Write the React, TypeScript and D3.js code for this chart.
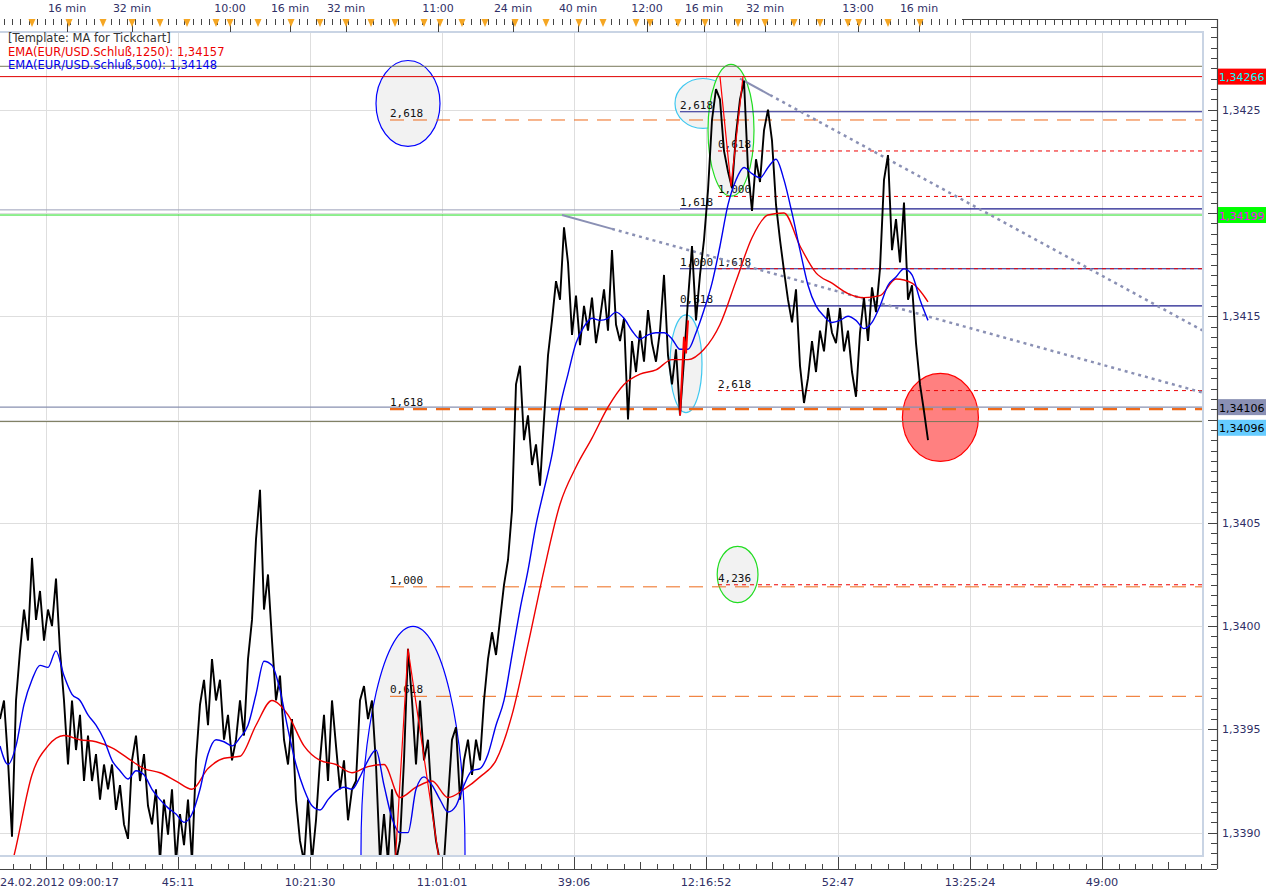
import React from 'react';
import * as d3 from 'd3';

// ---------------- data ----------------
// price ticks (EUR/USD), one sample per tick-slot
const priceTicks: number[] = [
  1.33955, 1.33964, 1.33935, 1.33898, 1.33964, 1.33988, 1.34008, 1.33993, 1.34033, 1.34003,
  1.34017, 1.33993, 1.34008, 1.34000, 1.34023, 1.33988, 1.33964, 1.33933, 1.33964, 1.33940,
  1.33957, 1.33925, 1.33947, 1.33925, 1.33938, 1.33916, 1.33933, 1.33921, 1.33933, 1.33911,
  1.33923, 1.33904, 1.33897, 1.33935, 1.33947, 1.33925, 1.33938, 1.33913, 1.33904, 1.33921,
  1.33886, 1.33916, 1.33899, 1.33921, 1.33886, 1.33909, 1.33894, 1.33916, 1.33886, 1.33935,
  1.33962, 1.33974, 1.33952, 1.33984, 1.33964, 1.33974, 1.33945, 1.33957, 1.33935, 1.33945,
  1.33964, 1.33947, 1.33984, 1.34003, 1.34042, 1.34066, 1.34008, 1.34025, 1.33993, 1.33964,
  1.33976, 1.33945, 1.33933, 1.33955, 1.33916, 1.33896, 1.33886, 1.33916, 1.33886, 1.33906,
  1.33935, 1.33957, 1.33925, 1.33964, 1.33942, 1.33921, 1.33935, 1.33906, 1.33921, 1.33925,
  1.33964, 1.33971, 1.33955, 1.33964, 1.33933, 1.33886, 1.33909, 1.33886, 1.33921, 1.33886,
  1.33896, 1.33935, 1.33989, 1.33964, 1.33933, 1.33964, 1.33935, 1.33945, 1.33913, 1.33896,
  1.33886, 1.33886, 1.33916, 1.33945, 1.33951, 1.33916, 1.33935, 1.33945, 1.33928, 1.33945,
  1.33935, 1.33964, 1.33984, 1.33997, 1.33986, 1.34003, 1.34020, 1.34032, 1.34056, 1.34117,
  1.34126, 1.34090, 1.34102, 1.34078, 1.34088, 1.34068, 1.34100, 1.34131, 1.34148, 1.34167,
  1.34158, 1.34193, 1.34176, 1.34141, 1.34160, 1.34136, 1.34155, 1.34143, 1.34159, 1.34137,
  1.34149, 1.34163, 1.34143, 1.34182, 1.34146, 1.34138, 1.34149, 1.34100, 1.34138, 1.34123,
  1.34143, 1.34128, 1.34153, 1.34137, 1.34128, 1.34143, 1.34170, 1.34131, 1.34117, 1.34134,
  1.34102, 1.34129, 1.34158, 1.34184, 1.34148, 1.34170, 1.34187, 1.34211, 1.34245, 1.34260,
  1.34255, 1.34230, 1.34220, 1.34212, 1.34238, 1.34255, 1.34264, 1.34221, 1.34201, 1.34226,
  1.34215, 1.34240, 1.34250, 1.34235, 1.34204, 1.34187, 1.34172, 1.34158, 1.34147, 1.34163,
  1.34126, 1.34108, 1.34120, 1.34138, 1.34123, 1.34143, 1.34133, 1.34154, 1.34142, 1.34137,
  1.34154, 1.34133, 1.34143, 1.34123, 1.34111, 1.34142, 1.34159, 1.34138, 1.34164, 1.34152,
  1.34173, 1.34216, 1.34228, 1.34182, 1.34197, 1.34176, 1.34205, 1.34158, 1.34165, 1.34137,
  1.34117, 1.34104, 1.34090,
];

// EMA(500), one value every 2 tick-slots
const ema500: number[] = [
  1.33942, 1.33933, 1.33942, 1.33962, 1.33974, 1.33981, 1.33980, 1.33988, 1.33976, 1.33967,
  1.33964, 1.33957, 1.33952, 1.33945, 1.33935, 1.33930, 1.33926, 1.33930, 1.33928, 1.33921,
  1.33916, 1.33912, 1.33909, 1.33905, 1.33909, 1.33921, 1.33938, 1.33945, 1.33944, 1.33942,
  1.33946, 1.33952, 1.33967, 1.33983, 1.33981, 1.33969, 1.33950, 1.33933, 1.33921, 1.33913,
  1.33911, 1.33916, 1.33920, 1.33922, 1.33921, 1.33927, 1.33935, 1.33940, 1.33923, 1.33907,
  1.33900, 1.33900, 1.33921, 1.33927, 1.33923, 1.33916, 1.33910, 1.33913, 1.33923, 1.33930,
  1.33931, 1.33938, 1.33952, 1.33964, 1.33986, 1.34008, 1.34027, 1.34049, 1.34066, 1.34083,
  1.34106, 1.34122, 1.34137, 1.34145, 1.34149, 1.34148, 1.34149, 1.34152, 1.34149, 1.34143,
  1.34139, 1.34141, 1.34142, 1.34142, 1.34139, 1.34134, 1.34134, 1.34142, 1.34153, 1.34166,
  1.34184, 1.34204, 1.34216, 1.34222, 1.34219, 1.34217, 1.34222, 1.34226, 1.34216, 1.34200,
  1.34182, 1.34165, 1.34155, 1.34150, 1.34147, 1.34148, 1.34150, 1.34148, 1.34144, 1.34147,
  1.34155, 1.34165, 1.34169, 1.34173, 1.34170, 1.34158, 1.34148,
];

// EMA(1250), one value every 4 tick-slots
const ema1250: number[] = [
  1.33860, 1.33893, 1.33928, 1.33942, 1.33947, 1.33945, 1.33944, 1.33941, 1.33936, 1.33931,
  1.33929, 1.33925, 1.33921, 1.33931, 1.33936, 1.33937, 1.33952, 1.33964, 1.33957, 1.33942,
  1.33935, 1.33933, 1.33929, 1.33932, 1.33933, 1.33917, 1.33922, 1.33925, 1.33917, 1.33921,
  1.33927, 1.33935, 1.33957, 1.33991, 1.34027, 1.34059, 1.34077, 1.34091, 1.34106, 1.34117,
  1.34122, 1.34124, 1.34129, 1.34129, 1.34134, 1.34146, 1.34167, 1.34188, 1.34199, 1.34200,
  1.34184, 1.34171, 1.34166, 1.34161, 1.34159, 1.34160, 1.34168, 1.34166, 1.34157,
];
const EMA500_STEP = 2;
const EMA1250_STEP = 4;
const SLOT_MAX = 300.75;

// axes
const bottomTickSlots = [11.5, 44.5, 77.5, 110.5, 143.5, 176.5, 209.5, 242.5, 275.5];
const bottomLabels = ['24.02.2012 09:00:17', '45:11', '10:21:30', '11:01:01', '39:06', '12:16:52', '52:47', '13:25:24', '49:00'];
const topLabelSlots = [16.75, 33, 57.5, 72.5, 86.5, 109.5, 128.25, 144.5, 161.75, 176, 191.25, 214.5, 229.75];
const topLabels = ['16 min', '32 min', '10:00', '16 min', '32 min', '11:00', '24 min', '40 min', '12:00', '16 min', '32 min', '13:00', '16 min'];
const markerSlots = [8, 17.25, 25.75, 33, 40, 46.75, 54, 57.5, 64.5, 72.75, 80, 86.5, 92.75, 98.75, 106, 110, 115.5, 121.25,
  128.75, 136.5, 144.75, 150.75, 159, 162.5, 169.5, 176.25, 184.5, 191.25, 198.5, 205, 212, 214.75, 222, 230];
const yMajorTicks = [1.339, 1.3395, 1.34, 1.3405, 1.341, 1.3415, 1.342, 1.3425];

// legend
const legendLines = ['[Template: MA for Tickchart]', 'EMA(EUR/USD.Schluß,1250): 1,34157', 'EMA(EUR/USD.Schluß,500): 1,34148'];

// horizontal price levels across the whole chart
const levelOlive = [1.34271, 1.34099];
const levelRed = [1.34266];
const levelSteel = [1.34106];
const levelGreen = [1.34199];
const levelSteelShort = [1.34201];

// Fibonacci sets: start slot, levels, labels
const fibLeftStart = 97.5;
const fibLeftLevels = [1.34245, 1.34105, 1.34019, 1.33966];
const fibLeftLabels = ['2,618', '1,618', '1,000', '0,618'];
const fibNavyStart = 170;
const fibNavyLevels = [1.34249, 1.34202, 1.34173, 1.34155];
const fibNavyLabels = ['2,618', '1,618', '1,000', '0,618'];
const fibRedStart = 179.5;
const fibRedLevels = [1.3423, 1.34208, 1.34173, 1.34114, 1.3402];
const fibRedLabels = ['0,618', '1,000', '1,618', '2,618', '4,236'];

// trend lines [slot0, price0, slotSolidEnd, slot1, price1]
const trendLines = [
  [140.5, 1.34199, 153, 300.75, 1.34113],
  [185, 1.34265, 192.5, 300.75, 1.34143],
];

// ellipses: [centerSlot, centerPrice, radiusSlots, radiusPrice]
const ellipses = [
  [103.25, 1.33891, 13, 0.001089],
  [102, 1.34253, 8, 0.000208],
  [175.75, 1.34253, 7, 0.000121],
  [182.75, 1.3424, 5.75, 0.000319],
  [171.5, 1.34127, 4, 0.000237],
  [184.4, 1.34025, 5.1, 0.000136],
  [235.1, 1.34101, 9.5, 0.000213],
];
const ellipseStroke = ['#0000ff', '#0000ff', '#3fc8f0', '#22dd22', '#3fc8f0', '#22dd22', '#ff0000'];
const ellipseFill = ['#f2f2f2', '#f2f2f2', '#f2f2f2', '#f2f2f2', '#f2f2f2', '#f2f2f2', '#ff8080'];

// red zig-zag annotations
const zigzags: number[][][] = [
  [[98.75, 1.33884], [102, 1.33989], [110, 1.33884]],
  [[180, 1.34266], [182.75, 1.34213], [185.75, 1.34266]],
  [[170, 1.34102], [171, 1.3414], [171.5, 1.34132], [172, 1.34148]],
];

// right-axis value boxes
const valueBoxes = [1.34266, 1.34199, 1.34106, 1.34096];
const valueBoxBg = ['#ff0000', '#00ff00', '#8a90b4', '#66ccff'];
const valueBoxFg = ['#00ffff', '#ff00ff', '#000000', '#000000'];

// ---------------- chart ----------------
const W = 1274;
const H = 894;
const PL = 0, PR = 1203, PT = 32, PB = 856;
const AX = 1217; // right axis line
const TOPY = 19; // top axis line
const BOTY = 869; // bottom axis line
const FONT = 'DejaVu Sans, Verdana, sans-serif';
const MONO = 'DejaVu Sans Mono, monospace';
const AXIS_COLOR = '#2f2f66';

const fmt = (v: number, d: number) => v.toFixed(d).replace('.', ',');

export default function App() {
  const x = d3.scaleLinear().domain([0, SLOT_MAX]).range([PL, PR]);
  const y = d3.scaleLinear().domain([1.338887, 1.342876]).range([PB, PT]);

  const priceLine = d3.line<number>().x((_, i) => x(i)).y((d) => y(d));
  const ema500Line = d3.line<number>().x((_, i) => x(i * EMA500_STEP)).y((d) => y(d)).curve(d3.curveMonotoneX);
  const ema1250Line = d3.line<number>().x((_, i) => x(i * EMA1250_STEP)).y((d) => y(d)).curve(d3.curveMonotoneX);
  const ptLine = d3.line<number[]>().x((d) => x(d[0])).y((d) => y(d[1]));

  const minorY = d3.range(-2, 84).map((k) => 1.3389 + k * 0.00005).filter((v) => y(v) > 22 && y(v) < 866);
  const topMinor = d3.range(1, 297, 2.05);
  const botMinor = d3.range(3.25, 304.3, 4.125);
  const visibleYLabels = yMajorTicks.filter((v) => valueBoxes.every((b) => Math.abs(y(b) - y(v)) > 14));

  const hLine = (p: number, from: number, stroke: string, w: number, dash?: string, key?: string) => (
    <line key={key} x1={x(from)} x2={PR} y1={y(p)} y2={y(p)} stroke={stroke} strokeWidth={w} strokeDasharray={dash} />
  );

  return (
    <svg width={W} height={H} style={{ position: 'absolute', left: 0, top: 0, background: '#fff' }} fontFamily={FONT}>
      <defs>
        <clipPath id="plotClip">
          <rect x={PL} y={PT} width={PR - PL} height={PB - PT} />
        </clipPath>
      </defs>
      <rect x={0} y={0} width={W} height={H} fill="#ffffff" />

      <g clipPath="url(#plotClip)">
        {/* grid */}
        {yMajorTicks.map((v) => (
          <line key={'gy' + v} x1={PL} x2={PR} y1={Math.round(y(v)) + 0.5} y2={Math.round(y(v)) + 0.5} stroke="#dedede" />
        ))}
        {bottomTickSlots.map((s) => (
          <line key={'gx' + s} x1={Math.round(x(s)) + 0.5} x2={Math.round(x(s)) + 0.5} y1={PT} y2={PB} stroke="#dedede" />
        ))}

        {/* ellipses */}
        {ellipses.map((e, i) => {
          const rx = x(e[2]) - x(0);
          const ry = y(e[1] - e[3]) - y(e[1]);
          return (
            <ellipse key={'el' + i} cx={x(e[0])} cy={y(e[1])} rx={rx} ry={ry} fill={ellipseFill[i]} stroke={ellipseStroke[i]} strokeWidth={1.2} />
          );
        })}

        {/* full-width levels */}
        {levelOlive.map((p) => hLine(p, 0, '#77775a', 1, undefined, 'ol' + p))}
        {levelRed.map((p) => hLine(p, 0, '#e00000', 1, undefined, 'rl' + p))}
        {levelSteel.map((p) => hLine(p, 0, '#8890b0', 1.3, undefined, 'sl' + p))}
        {levelGreen.map((p) => hLine(p, 0, '#22dd22', 1, undefined, 'gl' + p))}
        {levelSteelShort.map((p) => (
          <line key={'ss' + p} x1={0} x2={x(fibNavyStart)} y1={y(p) - 1} y2={y(p) - 1} stroke="#9a9fb8" strokeWidth={1} />
        ))}

        {/* fibonacci */}
        {fibLeftLevels.map((p, i) =>
          hLine(p, fibLeftStart, '#ee6a1a', i === 1 ? 2.2 : 1, '14,9', 'fl' + i)
        )}
        {fibNavyLevels.map((p, i) => hLine(p, fibNavyStart, '#1c1c8c', 1.2, undefined, 'fn' + i))}
        {fibRedLevels.map((p, i) => hLine(p, fibRedStart, '#ee0000', 1, '4,4', 'fr' + i))}
        {fibLeftLevels.map((p, i) => (
          <text key={'flt' + i} x={x(fibLeftStart)} y={y(p) - 3} fontFamily={MONO} fontSize={11} fill="#111">{fibLeftLabels[i]}</text>
        ))}
        {fibNavyLevels.map((p, i) => (
          <text key={'fnt' + i} x={x(fibNavyStart)} y={y(p) - 3} fontFamily={MONO} fontSize={11} fill="#111">{fibNavyLabels[i]}</text>
        ))}
        {fibRedLevels.map((p, i) => (
          <text key={'frt' + i} x={x(fibRedStart)} y={y(p) - 3} fontFamily={MONO} fontSize={11} fill="#111">{fibRedLabels[i]}</text>
        ))}

        {/* trend lines */}
        {trendLines.map((t, i) => {
          const pMid = t[1] + ((t[4] - t[1]) * (t[2] - t[0])) / (t[3] - t[0]);
          return (
            <g key={'tl' + i}>
              <line x1={x(t[0])} y1={y(t[1])} x2={x(t[2])} y2={y(pMid)} stroke="#8a90b4" strokeWidth={2} />
              <line x1={x(t[2])} y1={y(pMid)} x2={x(t[3])} y2={y(t[4])} stroke="#8a90b4" strokeWidth={2.5} strokeDasharray="3,4" />
            </g>
          );
        })}

        {/* price and EMAs */}
        <path d={priceLine(priceTicks) || ''} fill="none" stroke="#000" strokeWidth={1.9} strokeLinejoin="miter" />
        <path d={ema1250Line(ema1250) || ''} fill="none" stroke="#ee0000" strokeWidth={1.4} />
        <path d={ema500Line(ema500) || ''} fill="none" stroke="#0000ee" strokeWidth={1.4} />

        {zigzags.map((z, i) => (
          <path key={'zz' + i} d={ptLine(z) || ''} fill="none" stroke="#ff0000" strokeWidth={i === 2 ? 2 : 1.2} />
        ))}
      </g>

      {/* plot frame */}
      <rect x={PL - 2} y={PT} width={PR - PL + 2} height={PB - PT} fill="none" stroke="#c9d4e4" strokeWidth={2} />

      {/* legend */}
      {legendLines.map((t, i) => (
        <text key={'lg' + i} x={8} y={42 + i * 13.5} fontSize={11.5} fill={i === 0 ? '#333333' : i === 1 ? '#ee0000' : '#0000ee'}>{t}</text>
      ))}

      {/* right axis */}
      <line x1={AX + 0.5} x2={AX + 0.5} y1={TOPY} y2={BOTY} stroke="#444" strokeWidth={1.2} />
      {minorY.map((v, i) => (
        <line key={'my' + i} x1={AX - 6} x2={AX} y1={Math.round(y(v)) + 0.5} y2={Math.round(y(v)) + 0.5} stroke="#444" />
      ))}
      {yMajorTicks.map((v) => (
        <line key={'yt' + v} x1={AX - 9} x2={AX} y1={Math.round(y(v)) + 0.5} y2={Math.round(y(v)) + 0.5} stroke="#444" />
      ))}
      {visibleYLabels.map((v) => (
        <text key={'ytl' + v} x={AX + 5} y={y(v) + 4} fontSize={11} fill={AXIS_COLOR}>{fmt(v, 4)}</text>
      ))}
      {valueBoxes.map((v, i) => (
        <g key={'vb' + i}>
          <rect x={AX + 1} y={y(v) - 8} width={48} height={16} fill={valueBoxBg[i]} />
          <text x={AX + 2} y={y(v) + 4.5} fontSize={11} fill={valueBoxFg[i]}>{fmt(v, 5)}</text>
        </g>
      ))}

      {/* top axis */}
      <line x1={x(240.5)} x2={AX} y1={TOPY + 0.5} y2={TOPY + 0.5} stroke="#444" />
      {topMinor.map((s, i) => (
        <line key={'tm' + i} x1={Math.round(x(s)) + 0.5} x2={Math.round(x(s)) + 0.5} y1={TOPY} y2={TOPY + 6} stroke="#444" />
      ))}
      {topLabelSlots.map((s, i) => (
        <line key={'tM' + i} x1={Math.round(x(s)) + 0.5} x2={Math.round(x(s)) + 0.5} y1={TOPY} y2={PT} stroke="#444" />
      ))}
      {markerSlots.map((s, i) => {
        const cx = x(s);
        return <polygon key={'mk' + i} points={`${cx - 3.5},${TOPY} ${cx + 3.5},${TOPY} ${cx},${TOPY + 8}`} fill="#f5a623" />;
      })}
      {topLabelSlots.map((s, i) => (
        <text key={'tl' + i} x={x(s)} y={12} fontSize={11} textAnchor="middle" fill={AXIS_COLOR}>{topLabels[i]}</text>
      ))}

      {/* bottom axis */}
      <line x1={0} x2={AX} y1={BOTY + 0.5} y2={BOTY + 0.5} stroke="#444" strokeWidth={1.2} />
      {botMinor.map((s, i) => {
        const rel = ((s - 11.5) % 33 + 33) % 33;
        const major = Math.abs(rel) < 0.01 || Math.abs(rel - 33) < 0.01;
        const mid = Math.abs(rel - 16.5) < 0.01;
        const len = major ? 12 : mid ? 7 : 5;
        return <line key={'bm' + i} x1={Math.round(x(s)) + 0.5} x2={Math.round(x(s)) + 0.5} y1={BOTY - len} y2={BOTY} stroke="#444" />;
      })}
      {bottomTickSlots.map((s, i) => (
        <text key={'bl' + i} x={i === 0 ? 0 : x(s)} y={886} fontSize={11.3} textAnchor={i === 0 ? 'start' : 'middle'} fill={AXIS_COLOR}>
          {bottomLabels[i]}
        </text>
      ))}
    </svg>
  );
}
